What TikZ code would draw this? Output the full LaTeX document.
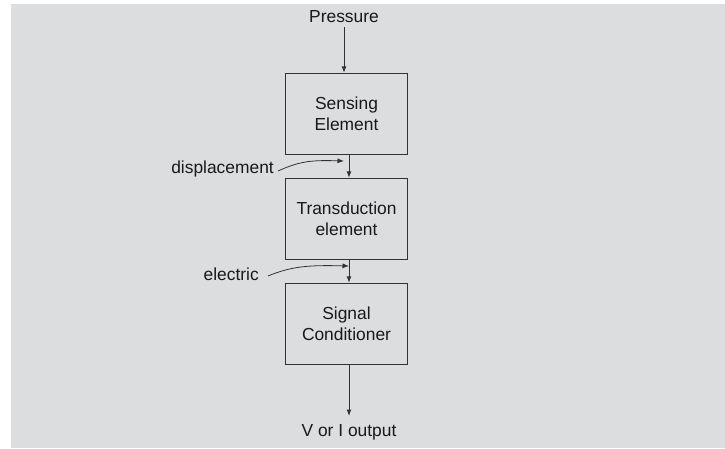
\documentclass[tikz,border=0pt]{standalone}
\usepackage{fontspec}
\setmainfont{Liberation Sans}
\usetikzlibrary{arrows.meta}
\definecolor{bg}{RGB}{220,221,223}
\definecolor{ln}{RGB}{50,50,50}
\definecolor{tx}{RGB}{25,25,25}
\begin{document}
\begin{tikzpicture}[x=1pt,y=-1pt,
  every node/.style={font=\fontsize{17.4pt}{21pt}\selectfont, text=tx, inner sep=0pt},
  blk/.style={draw=ln, line width=1pt, minimum width=122pt, minimum height=81pt, align=center},
  conn/.style={draw=ln, line width=1pt, -{Latex[length=6.5pt,width=5pt]}},
  lbl/.style={align=center}]
\useasboundingbox (0,0) rectangle (725,448);
\fill[bg] (11,4) rectangle (725,448);
\node[lbl] (p) at (344,17) {Pressure};
\node[blk] (s1) at (346.5,113.8) {Sensing\\Element};
\node[blk] (s2) at (346.5,218.8) {Transduction\\element};
\node[blk] (s3) at (346.5,323.8) {Signal\\Conditioner};
\node[lbl] (out) at (349,432) {V or I output};
\node[lbl, anchor=east] (d) at (274,169) {displacement};
\node[lbl, anchor=east] (e) at (259,274) {electric};
\coordinate (pt) at (344,27);
\coordinate (ot) at (349,416);
\coordinate (dt) at (344,161);
\coordinate (et) at (349,266);
\draw[conn] (pt) -- (pt |- s1.north);
\draw[conn] ([xshift=2.5pt]s1.south) -- ([xshift=2.5pt]s2.north);
\draw[conn] ([xshift=2.5pt]s2.south) -- ([xshift=2.5pt]s3.north);
\draw[conn] (ot |- s3.south) -- (ot);
\draw[conn, line width=0.8pt] ([xshift=4pt,yshift=-2pt]d.east) .. controls (300,161) and (312,160) .. (dt);
\draw[conn, line width=0.8pt] ([xshift=9pt,yshift=-2pt]e.east) .. controls (292,266) and (310,265) .. (et);
\end{tikzpicture}
\end{document}
